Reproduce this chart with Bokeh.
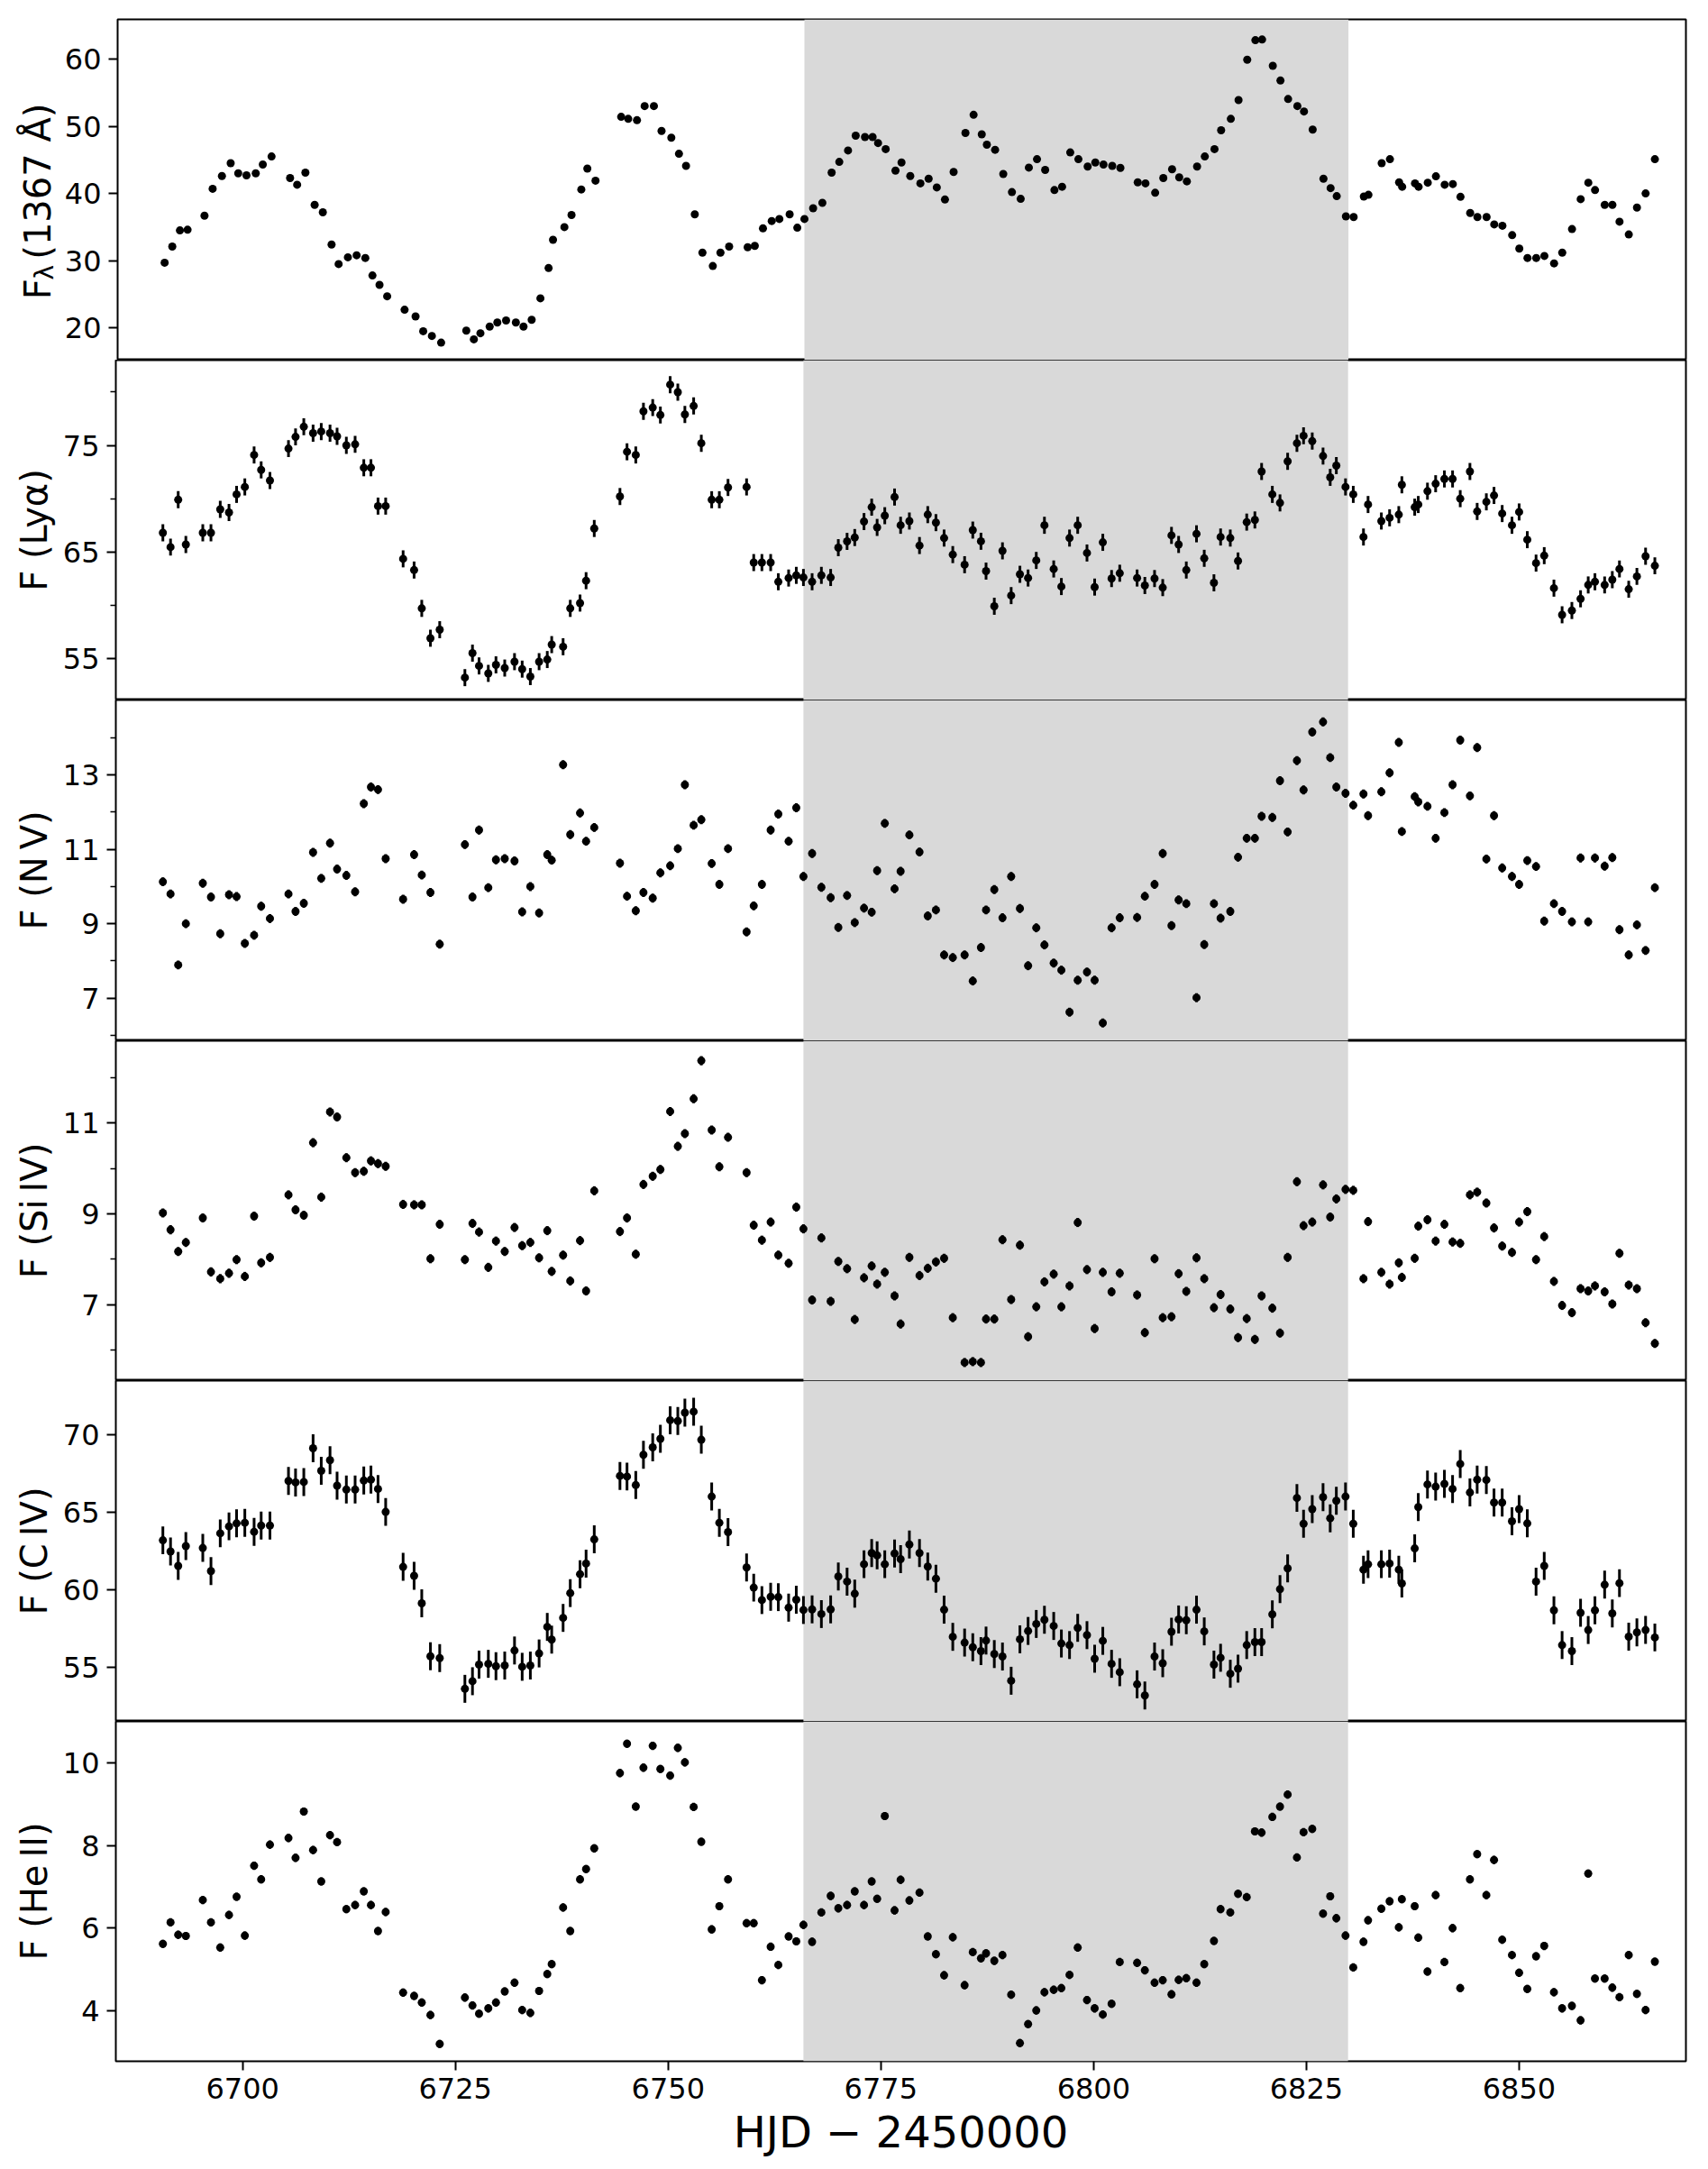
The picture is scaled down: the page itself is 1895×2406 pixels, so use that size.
import numpy as np
from math import pi
from bokeh.plotting import figure
from bokeh.layouts import column, row
from bokeh.models import BoxAnnotation, FixedTicker, Range1d
from bokeh.core.properties import value
from bokeh.embed import file_html
from bokeh.resources import INLINE

# Observation epochs, HJD - 2450000
HJD = [
    6690.63, 6691.53, 6692.43, 6693.33, 6695.32, 6696.28, 6697.37, 6698.40, 6699.29, 6700.26,
    6701.35, 6702.18, 6703.21, 6705.39, 6706.22, 6707.19, 6708.28, 6709.24, 6710.27, 6711.10,
    6712.19, 6713.22, 6714.24, 6715.08, 6715.91, 6716.81, 6718.86, 6720.15, 6721.05, 6722.07,
    6723.16, 6726.12, 6727.01, 6727.78, 6728.87, 6729.77, 6730.80, 6731.95, 6732.85, 6733.81,
    6734.84, 6735.80, 6736.32, 6737.66, 6738.50, 6739.65, 6740.36, 6741.32, 6744.34, 6745.17,
    6746.20, 6747.10, 6748.19, 6749.09, 6750.24, 6751.14, 6751.97, 6753.00, 6753.90, 6755.12,
    6756.02, 6757.04, 6759.22, 6760.06, 6761.02, 6762.05, 6762.95, 6764.16, 6765.06, 6765.90,
    6766.92, 6768.01, 6769.10, 6770.00, 6771.03, 6771.93, 6773.02, 6773.92, 6774.56, 6775.46,
    6776.61, 6777.32, 6778.35,
    6779.54, 6780.51, 6781.47, 6782.43, 6783.45, 6784.84, 6785.80, 6786.76, 6787.36, 6788.33,
    6789.29, 6790.31, 6791.34, 6792.30, 6793.26, 6794.22, 6795.31, 6796.21, 6797.17, 6798.13,
    6799.22, 6800.12, 6801.08, 6802.11, 6803.07, 6805.11, 6806.02, 6807.16, 6808.12, 6809.15,
    6809.99, 6810.89, 6812.09, 6813.00, 6814.14, 6814.92, 6816.06, 6816.97, 6817.99, 6818.95,
    6819.74, 6821.00, 6821.90, 6822.80, 6823.89, 6824.67, 6825.69, 6826.96, 6827.80, 6828.52,
    6829.60, 6830.51, 6831.71, 6832.25, 6833.81, 6834.78, 6835.86, 6836.22, 6837.73, 6838.15,
    6839.23, 6840.19, 6841.22, 6842.18, 6843.08, 6844.22, 6845.07, 6846.15, 6847.05, 6848.01,
    6849.16, 6850.00, 6850.96, 6851.99, 6852.95, 6854.09, 6855.05, 6856.20, 6857.22, 6858.12,
    6858.91, 6860.05, 6860.95, 6861.79, 6862.88, 6863.84, 6864.86, 6865.95,
]

# Continuum flux at 1367 A
F_CONT = [
    29.7, 32.1, 34.5, 34.6, 36.7, 40.7, 42.6, 44.5, 43.0, 42.7,
    43.0, 44.3, 45.5, 42.3, 41.3, 43.1, 38.3, 37.2, 32.4, 29.5,
    30.5, 30.8, 30.4, 27.8, 26.4, 24.7, 22.7, 21.7, 19.5, 18.8,
    17.8, 19.6, 18.3, 19.2, 20.2, 20.8, 21.1, 20.8, 20.2, 21.2,
    24.4, 28.9, 33.1, 35.0, 36.8, 40.6, 43.7, 41.9, 51.4, 51.1,
    50.9, 53.0, 53.0, 49.3, 48.3, 45.9, 44.1, 36.9, 31.2, 29.2,
    31.2, 32.1, 32.0, 32.2, 34.8, 35.9, 36.2, 36.9, 34.9, 36.2,
    37.8, 38.6, 43.1, 44.7, 46.4, 48.6, 48.4, 48.4, 47.5, 46.6,
    43.4, 44.6, 42.6,
    41.5, 42.2, 40.9, 39.1, 43.2, 49.0, 51.7, 48.8, 47.25, 46.5,
    42.9, 40.2, 39.2, 43.85, 45.1, 43.5, 40.5, 41.0, 46.1, 45.1,
    44.0, 44.6, 44.3, 44.1, 43.8, 41.65, 41.5, 40.1, 42.3, 43.6,
    42.4, 41.8, 44.0, 45.5, 46.6, 49.4, 51.1, 53.9, 59.9, 62.8,
    62.9, 59.0, 56.8, 54.05, 53.0, 52.2, 49.5, 42.2, 40.8, 39.6,
    36.6, 36.5, 39.55, 39.8, 44.5, 45.1, 41.65, 41.0, 41.5, 41.0,
    41.6, 42.55, 41.3, 41.4, 39.5, 37.1, 36.5, 36.5, 35.4, 35.2,
    33.8, 31.8, 30.4, 30.4, 30.7, 29.6, 31.2, 34.7, 39.15, 41.6,
    40.5, 38.3, 38.3, 35.8, 33.9, 37.9, 40.0, 45.1,
]

F_LYA = [
    66.8, 65.45, 69.9, 65.7, 66.8, 66.8, 69.0, 68.7, 70.4, 71.1,
    74.1, 72.7, 71.7, 74.7, 75.8, 76.75, 76.15, 76.3, 76.15, 75.85,
    75.0, 75.1, 72.9, 72.9, 69.3, 69.3, 64.35, 63.3, 59.7, 56.9,
    57.7, 53.2, 55.5, 54.3, 53.6, 54.4, 54.1, 54.7, 54.0, 53.3,
    54.7, 54.9, 56.3, 56.1, 59.7, 60.2, 62.3, 67.2, 70.2, 74.4,
    74.1, 78.2, 78.55, 77.85, 80.7, 80.0, 77.9, 78.7, 75.2, 69.9,
    69.9, 71.05, 71.1, 64.0, 64.0, 64.0, 62.2, 62.55, 62.8, 62.6,
    62.2, 62.8, 62.6, 65.4, 65.99, 66.35, 67.85, 69.2, 67.3, 68.4,
    70.15, 67.5, 67.9,
    65.6, 68.5, 67.75, 66.3, 64.75, 63.8, 67.05, 66.0, 63.2, 59.9,
    65.1, 60.9, 62.9, 62.55, 64.2, 67.5, 63.4, 61.75, 66.3, 67.5,
    64.9, 61.7, 65.9, 62.5, 63.0, 62.55, 61.85, 62.5, 61.65, 66.55,
    65.7, 63.3, 66.7, 64.4, 62.1, 66.4, 66.3, 64.15, 67.8, 68.0,
    72.55, 70.4, 69.6, 73.5, 75.2, 75.9, 75.4, 74.0, 72.0, 73.1,
    71.1, 70.4, 66.4, 69.45, 67.9, 68.2, 68.5, 71.3, 69.2, 69.45,
    70.7, 71.4, 71.85, 71.85, 70.0, 72.55, 68.8, 69.7, 70.3, 68.6,
    67.5, 68.75, 66.15, 63.95, 64.65, 61.6, 59.1, 59.5, 60.6, 61.9,
    62.2, 61.9, 62.4, 63.4, 61.5, 62.7, 64.6, 63.7,
]

F_NV = [
    10.13, 9.80, 7.89, 9.0, 10.09, 9.72, 8.73, 9.78, 9.73, 8.47,
    8.69, 9.47, 9.14, 9.80, 9.33, 9.55, 10.92, 10.22, 11.17, 10.47,
    10.30, 9.86, 12.23, 12.68, 12.61, 10.75, 9.66, 10.86, 10.31, 9.84,
    8.45, 11.13, 9.72, 11.52, 9.97, 10.72, 10.75, 10.69, 9.32, 10.0,
    9.29, 10.86, 10.71, 13.28, 11.40, 11.98, 11.22, 11.59, 10.63, 9.74,
    9.35, 9.84, 9.69, 10.37, 10.56, 11.02, 12.74, 11.65, 11.80, 10.62,
    10.06, 11.02, 8.78, 9.48, 10.06, 11.52, 11.95, 11.22, 12.12, 10.27,
    10.89, 9.98, 9.70, 8.90, 9.76, 9.03, 9.42, 9.31, 10.43, 11.70,
    9.94, 10.41, 11.39,
    10.93, 9.21, 9.37, 8.16, 8.09, 8.16, 7.46, 8.36, 9.37, 9.92,
    9.16, 10.27, 9.41, 7.87, 8.89, 8.43, 7.94, 7.75, 6.62, 7.48,
    7.70, 7.48, 6.33, 8.89, 9.16, 9.17, 9.74, 10.06, 10.89, 8.95,
    9.64, 9.54, 7.01, 8.44, 9.54, 9.15, 9.33, 10.79, 11.30, 11.30,
    11.89, 11.86, 12.85, 11.47, 13.39, 12.60, 14.16, 14.43, 13.47, 12.68,
    12.51, 12.19, 12.49, 11.91, 12.55, 13.06, 13.88, 11.48, 12.42, 12.28,
    12.16, 11.30, 11.99, 12.74, 13.94, 12.44, 13.74, 10.74, 11.91, 10.50,
    10.27, 10.06, 10.70, 10.54, 9.07, 9.54, 9.33, 9.05, 10.77, 9.05,
    10.77, 10.55, 10.78, 8.84, 8.16, 8.97, 8.28, 9.97,
]

F_SIIV = [
    9.02, 8.65, 8.17, 8.37, 8.91, 7.72, 7.57, 7.69, 7.99, 7.62,
    8.95, 7.92, 8.04, 9.42, 9.09, 8.97, 10.57, 9.37, 11.25, 11.14,
    10.24, 9.91, 9.94, 10.17, 10.11, 10.05, 9.21, 9.2, 9.2, 8.01,
    8.77, 7.99, 8.79, 8.6, 7.82, 8.4, 8.17, 8.7, 8.3, 8.37,
    8.03, 8.63, 7.73, 8.09, 7.52, 8.41, 7.3, 9.51, 8.61, 8.91,
    8.11, 9.65, 9.83, 9.98, 11.26, 10.49, 10.77, 11.54, 12.38, 10.85,
    10.04, 10.69, 9.91, 8.75, 8.42, 8.82, 8.09, 7.91, 9.15, 8.67,
    7.1, 8.47, 7.07, 7.95, 7.79, 6.67, 7.59, 7.85, 7.45, 7.71,
    7.19, 6.57, 8.04,
    7.64, 7.8, 7.94, 8.02, 6.71, 5.72, 5.74, 5.72, 6.68, 6.68,
    8.43, 7.11, 8.31, 6.29, 6.95, 7.5, 7.67, 6.95, 7.41, 8.81,
    7.77, 6.47, 7.71, 7.28, 7.69, 7.21, 6.38, 8.01, 6.71, 6.73,
    7.68, 7.29, 8.03, 7.57, 6.93, 7.22, 6.9, 6.27, 6.69, 6.23,
    7.19, 6.92, 6.37, 8.04, 9.71, 8.74, 8.82, 9.64, 8.93, 9.33,
    9.54, 9.52, 7.57, 8.83, 7.71, 7.45, 7.92, 7.6, 8.02, 8.73,
    8.87, 8.4, 8.77, 8.38, 8.35, 9.42, 9.48, 9.24, 8.69, 8.29,
    8.15, 8.82, 9.05, 7.99, 8.5, 7.51, 6.98, 6.82, 7.35, 7.3,
    7.41, 7.28, 7.01, 8.13, 7.43, 7.35, 6.6, 6.14,
]

F_CIV = [
    63.17, 62.45, 61.52, 62.8, 62.68, 61.19, 63.62, 64.07, 64.26, 64.3,
    63.72, 64.12, 64.12, 67.0, 66.9, 66.93, 69.1, 67.65, 68.33, 66.69,
    66.44, 66.44, 67.02, 67.08, 66.48, 65.0, 61.46, 60.88, 59.11, 55.7,
    55.58, 53.6, 54.09, 55.16, 55.21, 55.06, 55.1, 56.07, 55.02, 55.1,
    55.88, 57.59, 56.77, 58.17, 59.77, 60.99, 61.67, 63.23, 67.32, 67.28,
    66.73, 68.68, 69.16, 69.71, 70.91, 70.86, 71.4, 71.46, 69.65, 65.99,
    64.3, 63.7, 61.42, 60.12, 59.32, 59.53, 59.51, 58.83, 59.34, 58.68,
    58.72, 58.42, 58.72, 60.84, 60.51, 59.73, 61.63, 62.35, 62.2, 61.63,
    62.32, 61.96, 62.9,
    62.35, 61.48, 60.7, 58.7, 56.95, 56.58, 56.28, 56.03, 56.71, 55.84,
    55.68, 54.12, 56.79, 57.33, 57.78, 58.05, 57.65, 56.52, 56.42, 57.53,
    57.06, 55.54, 56.69, 55.21, 54.67, 53.89, 53.17, 55.68, 55.25, 57.28,
    58.07, 58.02, 58.7, 57.3, 55.16, 55.6, 54.57, 54.9, 56.42, 56.61,
    56.61, 58.4, 60.02, 61.36, 65.9, 64.24, 65.18, 65.95, 64.59, 65.72,
    65.99, 64.24, 61.28, 61.63, 61.63, 61.67, 61.28, 60.39, 62.65, 65.31,
    66.77, 66.63, 66.81, 66.48, 68.09, 66.25, 67.08, 67.06, 65.6, 65.6,
    64.4, 65.18, 64.26, 60.51, 61.52, 58.66, 56.42, 56.03, 58.5, 57.39,
    58.66, 60.31, 58.46, 60.41, 56.96, 57.24, 57.39, 56.91,
]

F_HEII = [
    5.62, 6.14, 5.84, 5.81, 6.68, 6.14, 5.53, 6.32, 6.76, 5.82,
    7.51, 7.18, 8.02, 8.18, 7.70, 8.82, 7.89, 7.13, 8.25, 8.08,
    6.46, 6.56, 6.89, 6.56, 5.93, 6.39, 4.44, 4.36, 4.2, 3.9,
    3.2, 4.32, 4.13, 3.93, 4.06, 4.2, 4.47, 4.68, 4.02, 3.95,
    4.48, 4.89, 5.13, 6.5, 5.93, 7.18, 7.43, 7.93, 9.75, 10.46,
    8.94, 9.88, 10.41, 9.85, 9.69, 10.36, 10.01, 8.93, 8.09, 5.97,
    6.53, 7.18, 6.12, 6.12, 4.74, 5.55, 5.11, 5.80, 5.68, 6.08,
    5.67, 6.38, 6.78, 6.48, 6.56, 6.89, 6.56, 7.13, 6.71, 8.71,
    6.43, 7.17, 6.67,
    6.86, 5.80, 5.37, 4.86, 5.78, 4.62, 5.42, 5.27, 5.39, 5.21,
    5.35, 4.39, 3.22, 3.68, 4.01, 4.45, 4.51, 4.55, 4.87, 5.53,
    4.26, 4.06, 3.91, 4.17, 5.18, 5.16, 4.98, 4.68, 4.74, 4.40,
    4.75, 4.79, 4.68, 5.13, 5.69, 6.46, 6.38, 6.83, 6.75, 8.34,
    8.31, 8.69, 8.94, 9.23, 7.71, 8.32, 8.40, 6.35, 6.77, 6.24,
    5.82, 5.05, 5.67, 6.19, 6.47, 6.65, 6.02, 6.70, 6.53, 5.77,
    4.95, 6.80, 5.18, 6.0, 4.55, 7.18, 7.79, 6.80, 7.65, 5.72,
    5.35, 4.92, 4.53, 5.32, 5.57, 4.45, 4.06, 4.12, 3.77, 7.32,
    4.78, 4.78, 4.56, 4.33, 5.35, 4.41, 4.02, 5.19,
]

# Typical 1-sigma uncertainty of each light curve
ERR_CONT, ERR_LYA, ERR_NV, ERR_SIIV, ERR_CIV, ERR_HEII = 0.25, 0.8, 0.12, 0.1, 0.9, 0.1

# Interval with anomalous line response
ANOMALY = (6765.9, 6829.9)

X_TICKS = [6700, 6725, 6750, 6775, 6800, 6825, 6850]

FONT = "DejaVu Sans"
TICK_FONT = "32px"
LABEL_FONT = "40px"
X_RANGE = (6685.1, 6869.6)
W = 1895
LEFT, RIGHT = 128, 25
STRIP = 68          # width of the strip holding the top panel's y label

t = np.array(HJD)


def style_axis(ax):
    ax.axis_line_color = None
    ax.major_tick_in = 0
    ax.major_tick_out = 10
    ax.major_tick_line_width = 2
    ax.major_tick_line_color = "black"
    ax.minor_tick_in = 0
    ax.minor_tick_out = 6
    ax.minor_tick_line_width = 1.5
    ax.minor_tick_line_color = "black"
    ax.major_label_text_font = FONT
    ax.major_label_text_font_size = TICK_FONT
    ax.major_label_text_color = "black"
    ax.major_label_standoff = 8
    ax.axis_label_text_font = FONT
    ax.axis_label_text_font_style = "normal"
    ax.axis_label_text_color = "black"
    ax.axis_label_standoff = 6


def panel(vals, err, yr, ticks, minor, label, height, top=0, bottom=0, last=False,
          width=W, left=LEFT):
    p = figure(width=width, height=height, x_range=Range1d(*X_RANGE), y_range=Range1d(*yr),
               output_backend="svg", toolbar_location=None,
               min_border_left=left, min_border_right=RIGHT,
               min_border_top=top, min_border_bottom=bottom)
    p.background_fill_color = "white"
    p.border_fill_color = "white"
    p.grid.visible = False
    p.outline_line_color = "black"
    p.outline_line_width = 2
    p.add_layout(BoxAnnotation(left=ANOMALY[0], right=ANOMALY[1], fill_color="#d9d9d9",
                               fill_alpha=1.0, line_color=None, level="underlay"))
    y = np.array(vals)
    p.segment(t, y - err, t, y + err, line_color="black", line_width=3)
    p.scatter(t, y, size=9, fill_color="black", line_color="black", line_width=0)

    ax = p.yaxis[0]
    style_axis(ax)
    ax.ticker = FixedTicker(ticks=ticks, minor_ticks=minor)
    if label:
        ax.axis_label = label
        ax.axis_label_text_font_size = LABEL_FONT

    xa = p.xaxis[0]
    if last:
        style_axis(xa)
        xa.ticker = FixedTicker(ticks=X_TICKS, minor_ticks=[])
        xa.minor_tick_out = 0
        xa.axis_label = "HJD \u2212 2450000"
        xa.axis_label_text_font_size = "48px"
    else:
        xa.visible = False
    return p


TOP_H = 399
p1 = panel(F_CONT, ERR_CONT, (15.2, 65.9), [20, 30, 40, 50, 60], [], None, TOP_H, top=21,
           width=W - STRIP, left=LEFT - STRIP)
p2 = panel(F_LYA, ERR_LYA, (51.1, 83.0), [55, 65, 75], [60, 70, 80], "F (Ly\u03b1)", 377)
p3 = panel(F_NV, ERR_NV, (5.85, 15.02), [7, 9, 11, 13], [6, 8, 10, 12, 14], "F (N\u2009V)", 378)
p4 = panel(F_SIIV, ERR_SIIV, (5.32, 12.82), [7, 9, 11], [6, 8, 10, 12], "F (Si\u2009IV)", 377)
p5 = panel(F_CIV, ERR_CIV, (51.5, 73.46), [55, 60, 65, 70], [], "F (C\u2009IV)", 378)
p6 = panel(F_HEII, ERR_HEII, (2.78, 11.0), [4, 6, 8, 10], [], "F (He\u2009II)", 497,
           bottom=120, last=True)

# Strip to the left of the top panel carrying "F_lambda (1367 A)" with a real subscript.
# Its ranges are in pixels so the pieces can be laid end to end.
lab = figure(width=STRIP, height=TOP_H, x_range=Range1d(0, STRIP), y_range=Range1d(0, TOP_H),
             output_backend="svg", toolbar_location=None,
             min_border_left=0, min_border_right=0, min_border_top=0, min_border_bottom=0)
lab.axis.visible = False
lab.grid.visible = False
lab.outline_line_color = None
lab.background_fill_color = "white"
lab.border_fill_color = "white"
x_mid = 41
start = 71
common = dict(angle=pi / 2, text_align="left", text_baseline="middle",
              text_font=value(FONT), text_color="black")
lab.text(x=[x_mid], y=[start], text=["F"], text_font_size=value(LABEL_FONT), **common)
lab.text(x=[x_mid + 8], y=[start + 23], text=["\u03bb"], text_font_size=value("28px"), **common)
lab.text(x=[x_mid], y=[start + 47], text=["(1367 \u00c5)"], text_font_size=value(LABEL_FONT),
         **common)

layout = column(row(lab, p1, spacing=0), p2, p3, p4, p5, p6, spacing=0)

open("out.html", "w").write(file_html(layout, INLINE))
